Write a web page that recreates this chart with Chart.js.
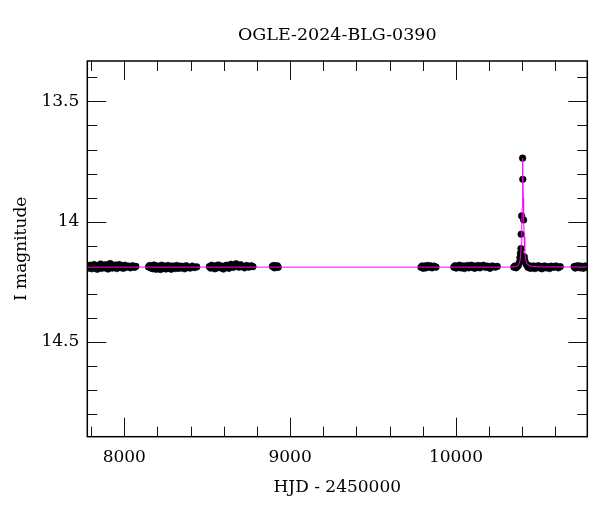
<!DOCTYPE html>
<html>
<head>
<meta charset="utf-8">
<title>OGLE-2024-BLG-0390</title>
<script src="https://cdn.jsdelivr.net/npm/chart.js@4.4.1/dist/chart.umd.min.js"></script>
<style>
  html, body { margin: 0; padding: 0; background: #fff; }
  #wrap { width: 600px; height: 512px; }
</style>
</head>
<body>
<div id="wrap"><canvas id="lc" width="600" height="512"></canvas></div>
<script>
// light curve, HJD - 2450000 vs I mag, one pair of arrays per season
const s2017T = [7779,7786,7792,7799,7805,7811,7818,7824,7831,7837,7844,7850,7857,7863,7870,7876,7883,7889,7896,7902,7909,7915,7922,7928,7935,7941,7948,7955,7962,7970,7978,7986,7995,8004,8014,8025,8037,8050,8062,8070];
const s2017M = [14.186,14.193,14.181,14.190,14.196,14.184,14.178,14.191,14.187,14.198,14.183,14.189,14.176,14.194,14.186,14.181,14.192,14.179,14.188,14.197,14.190,14.174,14.185,14.193,14.182,14.189,14.180,14.195,14.187,14.178,14.191,14.184,14.194,14.181,14.189,14.185,14.192,14.183,14.190,14.186];

const s2018T = [8146,8153,8160,8166,8173,8179,8186,8192,8199,8205,8212,8218,8225,8231,8238,8244,8251,8257,8264,8270,8277,8283,8290,8296,8303,8309,8316,8323,8330,8338,8346,8355,8364,8374,8385,8397,8410,8423,8437];
const s2018M = [14.188,14.182,14.193,14.185,14.196,14.180,14.190,14.198,14.184,14.192,14.187,14.199,14.181,14.190,14.194,14.185,14.197,14.188,14.182,14.193,14.187,14.198,14.184,14.191,14.188,14.195,14.182,14.190,14.194,14.185,14.192,14.186,14.196,14.183,14.190,14.193,14.185,14.191,14.188];

const s2019T = [8513,8520,8527,8533,8540,8546,8553,8559,8566,8572,8579,8585,8592,8598,8605,8611,8618,8624,8631,8637,8644,8651,8658,8666,8674,8683,8692,8702,8713,8725,8738,8752,8766,8776];
const s2019M = [14.187,14.193,14.181,14.190,14.184,14.196,14.185,14.192,14.180,14.189,14.183,14.193,14.187,14.197,14.184,14.190,14.181,14.187,14.194,14.185,14.177,14.184,14.190,14.181,14.175,14.183,14.189,14.179,14.186,14.192,14.182,14.189,14.183,14.187];

const s2020T = [8893,8899,8905,8911,8917,8923,8928];
const s2020M = [14.186,14.182,14.192,14.184,14.190,14.183,14.190];

const s2022T = [9789,9796,9803,9810,9818,9826,9835,9845,9856,9868,9880];
const s2022M = [14.190,14.184,14.194,14.185,14.192,14.182,14.189,14.183,14.192,14.185,14.189];

const s2023T = [9987,9994,10001,10008,10015,10022,10029,10036,10043,10050,10057,10064,10071,10078,10085,10092,10099,10106,10113,10120,10128,10136,10145,10155,10166,10178,10191,10205,10220,10236,10249];
const s2023M = [14.189,14.183,14.193,14.185,14.190,14.181,14.192,14.187,14.184,14.195,14.185,14.190,14.182,14.192,14.187,14.181,14.190,14.185,14.194,14.184,14.189,14.182,14.192,14.185,14.181,14.190,14.185,14.194,14.184,14.189,14.186];

const s2024T = [10349,10356,10363,10370,10376,10382,10386,10389,10390,10392,10393,10396,10402,10403,10408,10412,10416,10421,10427,10434,10441,10448,10455,10462,10469,10476,10483,10490,10497,10504,10511,10518,10526,10534,10543,10553,10564,10576,10589,10603,10617,10629];
const s2024M = [14.189,14.184,14.192,14.186,14.182,14.170,14.150,14.131,14.146,14.112,14.052,13.976,13.736,13.824,13.993,14.146,14.163,14.174,14.181,14.190,14.183,14.194,14.186,14.192,14.184,14.195,14.187,14.191,14.183,14.192,14.186,14.196,14.188,14.184,14.192,14.187,14.195,14.185,14.190,14.184,14.192,14.187];

const s2025T = [10712,10719,10726,10733,10741,10749,10758,10768,10779,10789];
const s2025M = [14.187,14.193,14.184,14.190,14.183,14.192,14.186,14.194,14.184,14.189];

// model curve (magenta)
const modelT = [7700,10300,10360,10375,10385,10390,10394,10397,10399,10401,10402.5,10404,10406,10408,10411,10415,10420,10430,10450,10500,10900];
const modelM = [14.189,14.189,14.187,14.182,14.167,14.142,14.092,14.022,13.942,13.822,13.737,13.802,13.902,13.982,14.062,14.122,14.157,14.177,14.185,14.188,14.189];

// axes
const xMajor = [8000, 9000, 10000];
const xMinor = [7800, 8200, 8400, 8600, 8800, 9200, 9400, 9600, 9800, 10200, 10400, 10600];
const yMajor = [13.5, 14, 14.5];
const yMinor = [13.4, 13.6, 13.7, 13.8, 13.9, 14.1, 14.2, 14.3, 14.4, 14.6, 14.7, 14.8];
const xRange = [7777, 10792];
const yRange = [13.332, 14.894];
const chartTitle = 'OGLE-2024-BLG-0390';

const FONT = "'DejaVu Serif', 'Liberation Serif', serif";

function pairs(ts, ms) { return ts.map((t, i) => ({ x: t, y: ms[i] })); }

const obs = [].concat(
    pairs(s2017T, s2017M), pairs(s2018T, s2018M), pairs(s2019T, s2019M),
    pairs(s2020T, s2020M), pairs(s2022T, s2022M), pairs(s2023T, s2023M),
    pairs(s2024T, s2024M), pairs(s2025T, s2025M)
);

// box + inward ticks on all four sides, title centred over the plot box
const frameTicks = {
    id: 'frameTicks',
    afterDraw(chart) {
        const { ctx, chartArea: a, scales: { x, y } } = chart;
        ctx.save();
        ctx.strokeStyle = '#111';
        ctx.lineWidth = 1;
        ctx.beginPath();
        const xt = (v, len) => {
            const p = Math.round(x.getPixelForValue(v)) + 0.5;
            ctx.moveTo(p, a.bottom); ctx.lineTo(p, a.bottom - len);
            ctx.moveTo(p, a.top); ctx.lineTo(p, a.top + len);
        };
        const yt = (v, len) => {
            const p = Math.round(y.getPixelForValue(v)) + 0.5;
            ctx.moveTo(a.left, p); ctx.lineTo(a.left + len, p);
            ctx.moveTo(a.right, p); ctx.lineTo(a.right - len, p);
        };
        xMajor.forEach(v => xt(v, 19));
        xMinor.forEach(v => xt(v, 10));
        yMajor.forEach(v => yt(v, 19));
        yMinor.forEach(v => yt(v, 10));
        ctx.stroke();
        ctx.lineWidth = 1.5;
        ctx.strokeStyle = '#000';
        ctx.strokeRect(a.left, a.top, a.right - a.left, a.bottom - a.top);

        ctx.fillStyle = '#000';
        ctx.font = '17.5px ' + FONT;
        ctx.textAlign = 'center';
        ctx.textBaseline = 'middle';
        ctx.fillText(chartTitle, (a.left + a.right) / 2, 35);
        ctx.restore();
    }
};

Chart.defaults.color = '#000';
Chart.defaults.font.family = FONT;

new Chart(document.getElementById('lc'), {
    type: 'scatter',
    data: {
        datasets: [{
            label: 'model',
            data: pairs(modelT, modelM),
            order: 0,
            showLine: true,
            pointRadius: 0,
            borderColor: '#ff00ff',
            borderWidth: 1,
            tension: 0
        }, {
            label: 'OGLE I',
            data: obs,
            order: 1,
            pointRadius: 3.3,
            pointBackgroundColor: '#000',
            pointBorderColor: '#000',
            pointBorderWidth: 0.6
        }]
    },
    options: {
        responsive: false,
        animation: false,
        events: [],
        layout: { padding: { left: 0, right: 12.7, top: 61, bottom: 0 } },
        plugins: {
            legend: { display: false },
            tooltip: { enabled: false },
            title: { display: false }
        },
        scales: {
            x: {
                type: 'linear',
                min: xRange[0], max: xRange[1],
                grid: { display: false, drawTicks: false },
                border: { display: false },
                afterBuildTicks: s => { s.ticks = xMajor.map(v => ({ value: v })); },
                afterFit: s => { s.height = 75.3; },
                ticks: {
                    padding: 11,
                    maxRotation: 0,
                    font: { family: FONT, size: 17 },
                    callback: v => String(v)
                },
                title: {
                    display: true,
                    text: 'HJD - 2450000',
                    font: { family: FONT, size: 17 },
                    padding: { top: 0, bottom: 14 }
                }
            },
            y: {
                type: 'linear',
                reverse: true,
                min: yRange[0], max: yRange[1],
                grid: { display: false, drawTicks: false },
                border: { display: false },
                afterBuildTicks: s => { s.ticks = yMajor.map(v => ({ value: v })); },
                afterFit: s => { s.width = 87.3; },
                ticks: {
                    padding: 8,
                    font: { family: FONT, size: 17 },
                    callback: v => String(v)
                },
                title: {
                    display: true,
                    text: 'I magnitude',
                    font: { family: FONT, size: 17 },
                    padding: { top: 11.8, bottom: 0 }
                }
            }
        }
    },
    plugins: [frameTicks]
});
</script>
</body>
</html>
